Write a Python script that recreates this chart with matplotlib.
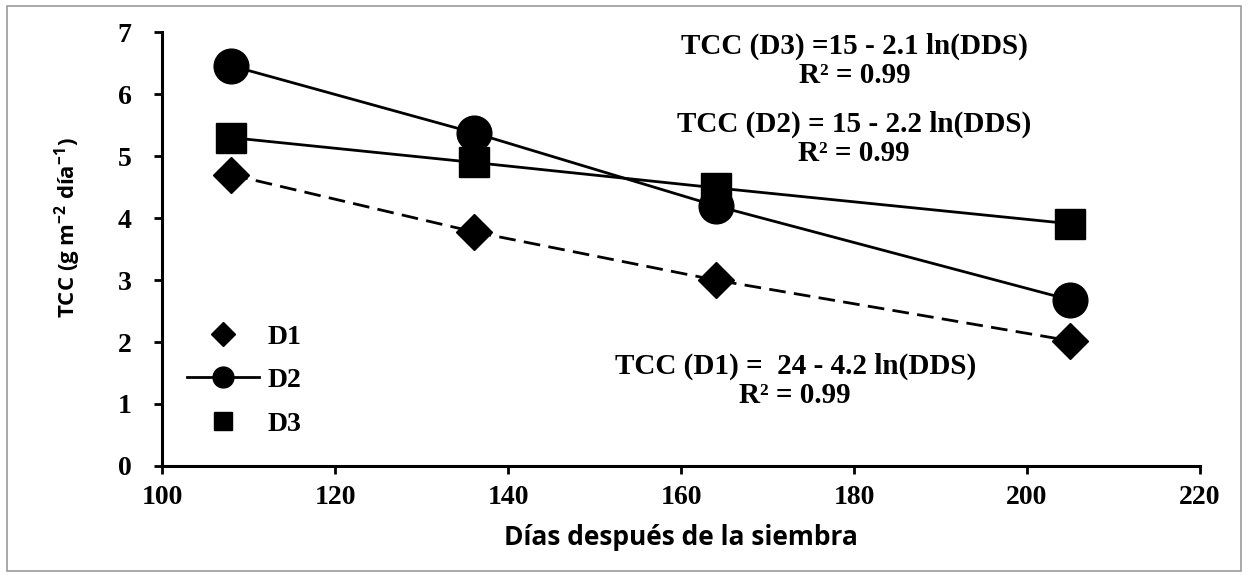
import matplotlib
matplotlib.use("Agg")
import matplotlib.pyplot as plt
from matplotlib.lines import Line2D
from matplotlib.patches import Rectangle

# Days after sowing and crop growth rate (TCC) per density
dds = [108, 136, 164, 205]
d1 = [4.70, 3.78, 3.00, 2.02]
d2 = [6.46, 5.38, 4.20, 2.68]
d3 = [5.30, 4.90, 4.49, 3.91]

eq_d3 = ["TCC (D3) =15 - 2.1 ln(DDS)", "R² = 0.99"]
eq_d2 = ["TCC (D2) = 15 - 2.2 ln(DDS)", "R² = 0.99"]
eq_d1 = ["TCC (D1) =  24 - 4.2 ln(DDS)", "R² = 0.99"]

plt.rcParams['mathtext.default'] = 'regular'
serif = 'Liberation Serif'
sans = ['Open Sans', 'DejaVu Sans']

fig = plt.figure(figsize=(12.48, 5.78), dpi=100)
ax = fig.add_axes([0.130, 0.194, 0.8315, 0.750])

ax.plot(dds, d1, color='black', ls=(0, (6, 3)), lw=2, marker='D', ms=18, zorder=3)
ax.plot(dds, d2, color='black', lw=2, marker='o', ms=25, zorder=3)
ax.plot(dds, d3, color='black', lw=2, marker='s', ms=21, zorder=3)

ax.set_xlim(100, 220)
ax.set_ylim(0, 7)
ax.set_xticks(range(100, 221, 20))
ax.set_yticks(range(0, 8))
for s in ['top', 'right']:
    ax.spines[s].set_visible(False)
for s in ['left', 'bottom']:
    ax.spines[s].set_linewidth(2.2)
ax.tick_params(width=2, length=6, direction='out', labelsize=20, pad=8)
ax.tick_params(axis='y', pad=16)
for lab in ax.get_xticklabels() + ax.get_yticklabels():
    lab.set_fontfamily(serif)
    lab.set_fontweight('bold')

ax.set_xlabel('Días después de la siembra', family=sans, fontsize=19,
              fontweight='bold', labelpad=10)
ax.set_ylabel('TCC (g m$^{-2}$ día$^{-1}$)', family=sans, fontsize=16,
              fontweight='bold')
ax.yaxis.set_label_coords(-0.076, 0.55)

def eq(x, y, lines):
    ax.text(x, y, lines[0], family=serif, fontsize=21, fontweight='bold',
            ha='center', va='center')
    ax.text(x, y - 0.47, lines[1], family=serif, fontsize=21, fontweight='bold',
            ha='center', va='center')

eq(180.1, 6.77, eq_d3)
eq(180.0, 5.52, eq_d2)
eq(173.2, 1.60, eq_d1)

handles = [
    Line2D([], [], color='black', ls='none', marker='D', ms=12),
    Line2D([], [], color='black', lw=2, marker='o', ms=15),
    Line2D([], [], color='black', ls='none', marker='s', ms=13),
]
ax.legend(handles, ['D1', 'D2', 'D3'], loc='lower left',
          bbox_to_anchor=(0.0, 0.01), frameon=False, handlelength=2.6,
          handletextpad=0.3, labelspacing=0.65,
          prop={'family': serif, 'weight': 'bold', 'size': 20})

fig.patches.append(Rectangle((0.006, 0.012), 0.988, 0.978, transform=fig.transFigure,
                             fill=False, edgecolor='#999999', lw=1.2))

fig.savefig('out.png', dpi=100)
